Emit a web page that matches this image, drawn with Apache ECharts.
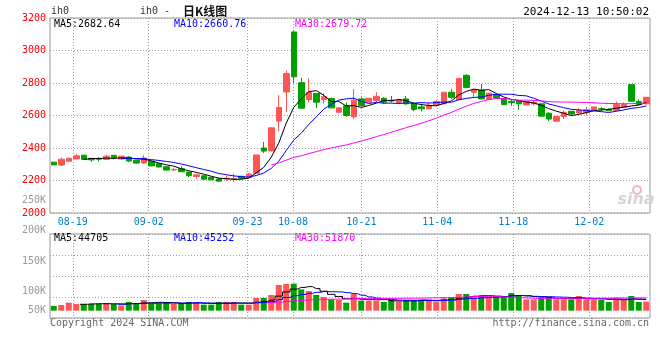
<!DOCTYPE html>
<html>
<head>
<meta charset="utf-8">
<script src="https://cdn.jsdelivr.net/npm/echarts@6/dist/echarts.min.js"></script>
<style>html,body{margin:0;padding:0;background:#fff}#c{width:660px;height:360px}</style>
</head>
<body>
<div id="c"></div>
<script>
// ---------- data ----------
const dates = ['08-14','08-15','08-16','08-19','08-20','08-21','08-22','08-23','08-26','08-27',
'08-28','08-29','08-30','09-02','09-03','09-04','09-05','09-06','09-09','09-10',
'09-11','09-12','09-13','09-18','09-19','09-20','09-23','09-24','09-25','09-26',
'09-27','09-30','10-08','10-09','10-10','10-11','10-14','10-15','10-16','10-17',
'10-18','10-21','10-22','10-23','10-24','10-25','10-28','10-29','10-30','10-31',
'11-01','11-04','11-05','11-06','11-07','11-08','11-11','11-12','11-13','11-14',
'11-15','11-18','11-19','11-20','11-21','11-22','11-25','11-26','11-27','11-28',
'11-29','12-02','12-03','12-04','12-05','12-06','12-09','12-10','12-11','12-12'];
const labelDates = ['08-19','09-02','09-23','10-08','10-21','11-04','11-18','12-02'];

const opens = [2313,2295,2319,2333,2356,2336,2334,2330,2355,2332,
2344,2325,2308,2318,2303,2285,2265,2273,2252,2225,
2229,2220,2210,2210,2208,2226,2217,2245,2400,2382,
2566,2745,3114,2802,2698,2735,2698,2704,2620,2659,
2592,2702,2682,2692,2706,2694,2680,2702,2675,2653,
2641,2665,2672,2743,2698,2847,2743,2757,2698,2728,
2702,2687,2692,2665,2672,2672,2614,2565,2594,2626,
2616,2618,2631,2642,2638,2631,2651,2790,2686,2672];
const closes = [2296,2331,2337,2352,2330,2327,2331,2350,2341,2350,
2320,2307,2338,2290,2283,2264,2268,2254,2230,2235,
2208,2204,2196,2214,2212,2213,2240,2357,2381,2524,
2649,2858,2838,2645,2741,2682,2716,2647,2647,2600,
2694,2661,2706,2718,2682,2690,2696,2672,2637,2641,
2663,2686,2743,2712,2828,2773,2757,2702,2737,2708,
2667,2680,2672,2686,2680,2596,2578,2594,2620,2610,
2631,2635,2653,2640,2630,2667,2667,2688,2668,2712];
const highs = [2314,2341,2340,2364,2357,2338,2345,2357,2356,2352,
2349,2326,2356,2320,2305,2287,2278,2288,2253,2243,
2231,2222,2212,2230,2243,2228,2245,2360,2437,2527,
2725,2876,3118,2831,2828,2738,2737,2710,2650,2680,
2763,2712,2708,2743,2712,2720,2702,2720,2678,2673,
2680,2694,2745,2763,2830,2855,2763,2794,2740,2732,
2704,2700,2694,2688,2694,2675,2620,2596,2631,2628,
2645,2653,2655,2653,2645,2686,2680,2792,2700,2714];
const lows = [2295,2289,2318,2332,2329,2315,2318,2329,2329,2331,
2313,2305,2304,2289,2281,2261,2258,2252,2220,2212,
2206,2202,2194,2198,2192,2210,2215,2243,2369,2380,
2504,2620,2798,2645,2680,2647,2672,2645,2617,2592,
2578,2655,2680,2682,2672,2680,2670,2665,2627,2625,
2637,2655,2670,2700,2696,2770,2712,2700,2695,2705,
2665,2660,2635,2660,2662,2594,2567,2563,2578,2600,
2610,2600,2629,2628,2627,2629,2649,2686,2665,2668];
const volumes = [18600,22500,31600,26500,26500,26500,26500,30400,26500,20900,
34400,30400,42300,28800,28800,30400,26500,30400,34400,30400,
23700,23700,34400,34400,34400,23700,23700,50200,50200,62000,
101500,105500,106700,84100,77800,62000,54100,44600,42300,31600,
66000,39500,39500,39500,34400,42300,35600,42300,39500,42300,
44600,35600,48600,52500,66000,66000,52500,58100,52500,58100,
58100,69900,62000,44600,44600,52500,52500,44600,44600,44600,
58100,44600,44600,42300,34400,51400,44600,58100,34400,35600];

const volTicks = ['200K','150K','100K','50K'];
const maLabels = ['MA5:2682.64','MA10:2660.76','MA30:2679.72'];
const volMaLabels = ['MA5:44705','MA10:45252','MA30:51870'];

// ---------- helpers ----------
function ma(arr, n){
  return arr.map((v,i)=>{
    if(i < n-1) return '-';
    let s=0; for(let k=i-n+1;k<=i;k++) s+=arr[k];
    return +(s/n).toFixed(2);
  });
}
const RED='#ff5555', GREEN='#00a000';
const MONO='"DejaVu Sans Mono", monospace';
const kdata = dates.map((d,i)=>[opens[i],closes[i],lows[i],highs[i]]);
const vdata = volumes.map((v,i)=>({value:v,itemStyle:{color: closes[i]>=opens[i]?RED:GREEN}}));
const isLabel = (idx,val)=> labelDates.indexOf(dates[idx])>=0;
const dotted = {color:'#a0a0a0', width:1, type:[1,2]};

const G0 = {left:50, top:18, width:600, height:195};
const G1 = {left:50, top:234, width:600, height:84};

function txt(t,x,y,color,align,font){
  return {type:'text', x:x, y:y, silent:true,
    style:{text:t, fill:color, font:font||('10px '+MONO), textAlign:align||'left', textVerticalAlign:'middle'}};
}
const graphics = [
  txt('ih0', 51, 11, '#333'),
  txt('ih0 -', 140, 11, '#333', 'left', '10px '+MONO),
  txt('日K线图', 183, 11, '#111', 'left', 'bold 12px "Noto Sans CJK SC", sans-serif'),
  txt('2024-12-13 10:50:02', 649, 12, '#000', 'right', '11px '+MONO),
  txt(maLabels[0], 54, 24, '#000'),
  txt(maLabels[1], 174, 24, '#0000ff'),
  txt(maLabels[2], 295, 24, '#ff00ff'),
  txt(volMaLabels[0], 54, 238, '#000'),
  txt(volMaLabels[1], 174, 238, '#0000ff'),
  txt(volMaLabels[2], 295, 238, '#ff00ff'),
  txt('250K', 46, 200, '#999', 'right'),
  txt('Copyright 2024 SINA.COM', 50, 323, '#666'),
  txt('http://finance.sina.com.cn', 649, 323, '#666', 'right'),
  txt('sina', 636, 200, '#d5d5d5', 'center', 'italic bold 16px "DejaVu Sans", sans-serif'),
  {type:'circle', shape:{cx:637, cy:190, r:4}, silent:true, style:{fill:'none', stroke:'#f2b8b8', lineWidth:2}}
];
const volTickY = [230, 261, 291, 310];
volTicks.forEach((t,i)=>graphics.push(txt(t, 46, volTickY[i], '#999', 'right')));

const chart = echarts.init(document.getElementById('c'), null, {renderer:'canvas'});
chart.setOption({
  animation:false,
  backgroundColor:'#fff',
  grid:[
    Object.assign({show:true, borderColor:'#999', borderWidth:1, backgroundColor:'transparent'}, G0),
    Object.assign({show:true, borderColor:'#999', borderWidth:1, backgroundColor:'transparent'}, G1)
  ],
  xAxis:[
    {type:'category', gridIndex:0, data:dates, boundaryGap:true, show:false},
    {type:'category', gridIndex:0, data:dates, boundaryGap:false, position:'bottom',
      axisLine:{show:false}, axisTick:{show:false},
      axisLabel:{interval:isLabel, color:'#0080d0', fontSize:10, fontFamily:MONO, margin:4},
      splitLine:{show:true, interval:isLabel, lineStyle:dotted}},
    {type:'category', gridIndex:1, data:dates, boundaryGap:true, show:false},
    {type:'category', gridIndex:1, data:dates, boundaryGap:false, position:'bottom',
      axisLine:{show:false}, axisTick:{show:false}, axisLabel:{show:false},
      splitLine:{show:true, interval:isLabel, lineStyle:dotted}}
  ],
  yAxis:[
    {type:'value', gridIndex:0, min:2000, max:3200, interval:200,
      axisLine:{show:false}, axisTick:{show:false},
      axisLabel:{color:'#ff0000', fontSize:10, fontFamily:MONO, margin:4, formatter:v=>String(v)},
      splitLine:{show:true, lineStyle:dotted}},
    {type:'value', gridIndex:1, min:-29000, max:303000, show:false, splitLine:{show:false}},
    {type:'value', gridIndex:1, min:0, max:4, interval:1, axisLine:{show:false}, axisTick:{show:false},
      axisLabel:{show:false}, splitLine:{show:true, lineStyle:dotted}}
  ],
  graphic: graphics,
  series:[
    {type:'candlestick', xAxisIndex:0, yAxisIndex:0, data:kdata, barWidth:6,
      itemStyle:{color:RED, color0:GREEN, borderColor:RED, borderColor0:GREEN, borderWidth:1}},
    {type:'line', xAxisIndex:0, yAxisIndex:0, data:ma(closes,5), symbol:'none', lineStyle:{color:'#000', width:1}},
    {type:'line', xAxisIndex:0, yAxisIndex:0, data:ma(closes,10), symbol:'none', lineStyle:{color:'#0000ff', width:1}},
    {type:'line', xAxisIndex:0, yAxisIndex:0, data:ma(closes,30), symbol:'none', lineStyle:{color:'#ff00ff', width:1}},
    {type:'bar', xAxisIndex:2, yAxisIndex:1, data:vdata, barWidth:6},
    {type:'line', xAxisIndex:2, yAxisIndex:1, data:ma(volumes,5), step:'middle', symbol:'none', lineStyle:{color:'#000', width:1}},
    {type:'line', xAxisIndex:2, yAxisIndex:1, data:ma(volumes,10), step:'middle', symbol:'none', lineStyle:{color:'#0000ff', width:1}},
    {type:'line', xAxisIndex:2, yAxisIndex:1, data:ma(volumes,30), step:'middle', symbol:'none', lineStyle:{color:'#ff00ff', width:1}}
  ]
});
</script>
</body>
</html>
